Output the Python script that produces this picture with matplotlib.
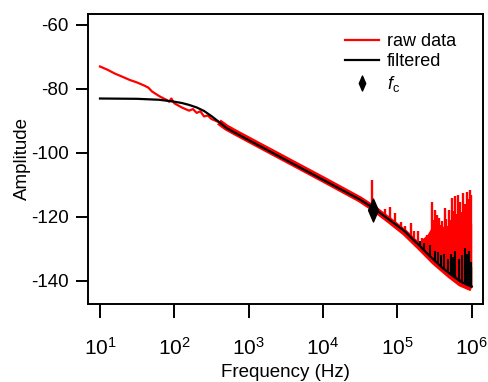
import numpy as np
import matplotlib
matplotlib.use("Agg")
import matplotlib.pyplot as plt
from matplotlib.path import Path
from matplotlib.ticker import FixedLocator, NullLocator, LogLocator

plt.rcParams['font.family'] = ['Liberation Sans', 'DejaVu Sans']
plt.rcParams['mathtext.fontset'] = 'custom'
plt.rcParams['mathtext.rm'] = 'Liberation Sans'
plt.rcParams['mathtext.it'] = 'Liberation Sans:italic'
plt.rcParams['mathtext.bf'] = 'Liberation Sans:bold'
plt.rcParams['axes.unicode_minus'] = False

# ---------------- data ----------------
# filtered curve
filt_freq = [10, 31.6, 63.1, 100, 126, 158, 200, 251, 316, 398, 501, 631,
             1000, 3162, 10000, 31623, 50119, 79433, 125893, 158489,
             199526, 251189, 316228, 398107, 501187, 707946, 891251, 1000000]
filt_amp = [-83.0, -83.1, -83.4, -84.0, -84.4, -85.0, -85.8, -86.9, -88.5,
            -90.3, -92.2, -93.5, -96.0, -102.2, -108.4, -114.6, -117.6,
            -121.0, -124.5, -126.8, -129.0, -131.4, -133.6, -135.8, -137.6,
            -140.2, -141.3, -141.8]

# raw data, low-frequency part (thin trace)
raw_lo_freq = [10, 12.6, 15.8, 20, 25.1, 31.6, 39.8, 44.7, 50.1, 63.1, 79.4,
               85.1, 91.2, 100, 126, 158, 178, 200, 224, 251, 282, 316, 398]
raw_lo_amp = [-73.0, -74.0, -75.2, -76.2, -77.2, -78.0, -79.0, -79.6, -80.8,
              -82.3, -83.5, -84.0, -83.0, -84.5, -85.8, -86.8, -86.3, -87.5,
              -87.0, -88.6, -88.3, -89.4, -90.4]
# raw data, noisy part (thick band)
raw_hi_freq = [398, 501, 631, 1000, 3162, 10000, 31623, 50119, 79433,
               125893, 199526, 316228, 501187, 707946, 1000000]
raw_hi_amp = [-90.35, -92.05, -93.35, -95.85, -102.05, -108.25, -114.55,
              -117.65, -121.2, -124.9, -129.4, -134.1, -138.1, -140.8,
              -142.3]

# dense noise envelope of the raw data at high frequency
raw_noise_freq = [199500, 251200, 281800, 316200, 398100, 501200, 631000,
                  794300, 1000000]
raw_noise_top = [-127.5, -125.5, -123.5, -123.0, -123.0, -122.5, -122.0,
                 -121.5, -122.0]
raw_noise_bot = [-129.0, -131.4, -132.5, -133.6, -135.8, -137.6, -139.3,
                 -140.8, -141.8]

# narrow spikes in the raw data
raw_spike_freq = [45200, 67600, 79400, 93300, 112200, 125900, 154900,
                  169800, 190500, 213800, 251200, 288400, 302000, 323600,
                  338800, 363100, 380200, 398100, 416900, 436500, 457100,
                  489800, 512900, 537000, 562300, 602600, 623700, 645700,
                  676100, 699800, 732800, 776200, 812800, 861000, 901600,
                  955000, 988600]
raw_spike_top = [-108.4, -117.5, -116.8, -118.9, -121.5, -122.8, -122.0,
                 -124.5, -124.4, -126.6, -125.6, -115.2, -121.0, -117.8,
                 -119.5, -120.4, -122.5, -121.4, -123.0, -117.2, -120.5,
                 -117.8, -121.0, -114.2, -118.0, -113.6, -119.0, -113.1,
                 -117.5, -115.2, -118.5, -112.6, -116.0, -112.1, -114.5,
                 -111.6, -113.0]
raw_spike_base = [-117.2, -119.9, -121.0, -122.2, -123.6, -124.5, -125.8,
                  -126.6, -127.9, -129.1, -130.5, -131.8, -132.2, -132.9,
                  -133.3, -134.0, -134.4, -134.8, -135.2, -135.6, -136.0,
                  -136.5, -136.9, -137.3, -137.7, -138.3, -138.6, -138.9,
                  -139.2, -139.5, -139.8, -140.2, -140.5, -140.9, -141.2,
                  -141.5, -141.7]

# dense noise envelope of the filtered data at high frequency
filt_noise_freq = [398100, 501200, 631000, 794300, 1000000]
filt_noise_top = [-135.5, -135.0, -134.5, -135.0, -135.5]
filt_noise_bot = [-135.8, -137.6, -139.3, -140.8, -141.8]

# spikes in the filtered data
filt_spike_freq = [199500, 229100, 275400, 316200, 354800, 389000, 426600,
                   478600, 524800, 568900, 602600, 676100, 741300, 812800,
                   871000, 933300, 977200]
filt_spike_top = [-127.5, -128.0, -128.7, -130.5, -131.0, -132.0, -131.5,
                  -133.0, -131.5, -132.4, -130.5, -133.0, -132.0, -129.8,
                  -131.5, -130.5, -134.0]
filt_spike_base = [-129.0, -130.4, -132.3, -133.6, -134.7, -135.6, -136.3,
                   -137.2, -137.9, -138.6, -139.0, -139.9, -140.4, -140.9,
                   -141.2, -141.5, -141.7]

# cutoff frequency marker
fc_freq = [47000]
fc_amp = [-117.8]

# ---------------- plotting ----------------
RED = '#ff0000'
fig = plt.figure(figsize=(4.88, 3.82), dpi=100)
ax = fig.add_axes([88/488, 1-304/382, (483-88)/488, (304-14)/382])

ax.plot(raw_lo_freq, raw_lo_amp, color=RED, lw=1.6, solid_joinstyle='round',
        label='raw data')
ax.plot(raw_hi_freq, raw_hi_amp, color=RED, lw=4.5, solid_capstyle='butt')
ax.fill_between(raw_noise_freq, raw_noise_bot, raw_noise_top, color=RED,
                lw=0)
ax.vlines(raw_spike_freq, raw_spike_base, raw_spike_top, color=RED, lw=1.7)

ax.plot(filt_freq, filt_amp, color='black', lw=1.6, label='filtered')
ax.fill_between(filt_noise_freq, filt_noise_bot, filt_noise_top,
                color='black', lw=0)
ax.vlines(filt_spike_freq, filt_spike_base, filt_spike_top, color='black',
          lw=1.5)

diamond = Path([(0, 1), (0.43, 0), (0, -1), (-0.43, 0), (0, 1)],
               [Path.MOVETO, Path.LINETO, Path.LINETO, Path.LINETO,
                Path.CLOSEPOLY])
ax.plot(fc_freq, fc_amp, linestyle='none', marker=diamond, ms=16.5,
        color='black', label=r'$f_\mathrm{c}$', zorder=5)

ax.set_xscale('log')
ax.set_xlim(6.9, 1.42e6)
ax.set_ylim(-147.2, -56.6)
ax.xaxis.set_major_locator(LogLocator(base=10, numticks=10))
ax.xaxis.set_minor_locator(NullLocator())
ax.yaxis.set_major_locator(FixedLocator([-140, -120, -100, -80, -60]))
ax.yaxis.set_minor_locator(NullLocator())

for s in ax.spines.values():
    s.set_linewidth(1.4)
ax.tick_params(axis='x', direction='out', length=10, width=1.4, pad=13.5,
               labelsize=15)
ax.tick_params(axis='y', direction='out', length=8.5, width=1.4, pad=5.5,
               labelsize=13.5)

ax.set_xlabel('Frequency (Hz)', fontsize=13.5, labelpad=4)
ax.set_ylabel('Amplitude', fontsize=13.5, labelpad=0)

ax.legend(loc='upper left', bbox_to_anchor=(0.651, 0.935), frameon=False,
          fontsize=13, borderpad=0, handlelength=1.9, handletextpad=0.4,
          labelspacing=0.2, markerscale=0.65, borderaxespad=0)

fig.savefig('out.png', dpi=100)
